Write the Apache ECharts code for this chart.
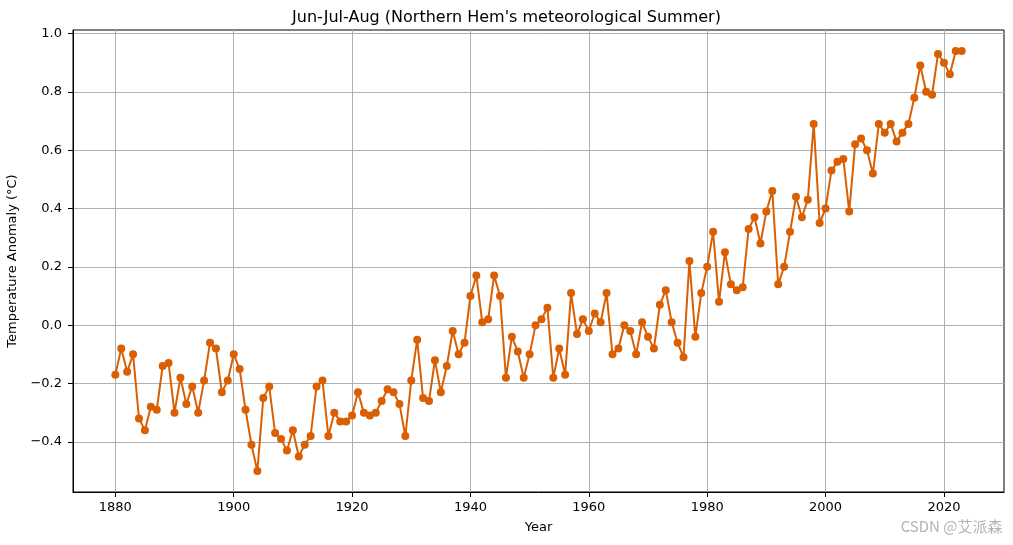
<!DOCTYPE html>
<html>
<head>
<meta charset="utf-8">
<script src="https://cdn.jsdelivr.net/npm/echarts@6/dist/echarts.min.js"></script>
<style>
html,body{margin:0;padding:0;background:#fff;}
#chart{width:1013px;height:545px;}
</style>
</head>
<body>
<div id="chart"></div>
<script>
const startYear = 1880;
const anomalies = [
  -0.17,-0.08,-0.16,-0.10,-0.32,-0.36,-0.28,-0.29,-0.14,-0.13,
  -0.30,-0.18,-0.27,-0.21,-0.30,-0.19,-0.06,-0.08,-0.23,-0.19,
  -0.10,-0.15,-0.29,-0.41,-0.50,-0.25,-0.21,-0.37,-0.39,-0.43,
  -0.36,-0.45,-0.41,-0.38,-0.21,-0.19,-0.38,-0.30,-0.33,-0.33,
  -0.31,-0.23,-0.30,-0.31,-0.30,-0.26,-0.22,-0.23,-0.27,-0.38,
  -0.19,-0.05,-0.25,-0.26,-0.12,-0.23,-0.14,-0.02,-0.10,-0.06,
  0.10,0.17,0.01,0.02,0.17,0.10,-0.18,-0.04,-0.09,-0.18,
  -0.10,0.00,0.02,0.06,-0.18,-0.08,-0.17,0.11,-0.03,0.02,
  -0.02,0.04,0.01,0.11,-0.10,-0.08,0.00,-0.02,-0.10,0.01,
  -0.04,-0.08,0.07,0.12,0.01,-0.06,-0.11,0.22,-0.04,0.11,
  0.20,0.32,0.08,0.25,0.14,0.12,0.13,0.33,0.37,0.28,
  0.39,0.46,0.14,0.20,0.32,0.44,0.37,0.43,0.69,0.35,
  0.40,0.53,0.56,0.57,0.39,0.62,0.64,0.60,0.52,0.69,
  0.66,0.69,0.63,0.66,0.69,0.78,0.89,0.80,0.79,0.93,
  0.90,0.86,0.94,0.94
];
const years = anomalies.map((_, i) => startYear + i);
const xTicks = [1880, 1900, 1920, 1940, 1960, 1980, 2000, 2020];
const yTicks = [-0.4, -0.2, 0.0, 0.2, 0.4, 0.6, 0.8, 1.0];
const titleText = "Jun-Jul-Aug (Northern Hem's meteorological Summer)";
const xLabel = "Year";
const yLabel = "Temperature Anomaly (°C)";
const watermark = "CSDN @艾派森";

const xMin = years[0], xMax = years[years.length - 1];
const xPad = (xMax - xMin) * 0.05;
const yMinD = Math.min(...anomalies), yMaxD = Math.max(...anomalies);
const yPad = (yMaxD - yMinD) * 0.05;

const font = "DejaVu Sans";
const chart = echarts.init(document.getElementById('chart'), null, {renderer: 'canvas'});
chart.setOption({
  animation: false,
  backgroundColor: '#ffffff',
  title: {
    text: titleText,
    left: 'center',
    top: 5,
    textStyle: {fontFamily: font, fontSize: 16, fontWeight: 'normal', color: '#000'}
  },
  grid: {
    left: 73, right: 9, top: 30, bottom: 53,
    outerBoundsMode: 'none',
    containLabel: false,
    show: true, borderColor: '#000', borderWidth: 1, backgroundColor: 'transparent'
  },
  xAxis: {
    type: 'value',
    min: xMin - xPad,
    max: xMax + xPad,
    name: xLabel,
    nameLocation: 'middle',
    nameGap: 29,
    nameTextStyle: {fontFamily: font, fontSize: 13, color: '#000'},
    axisLine: {show: true, onZero: false, lineStyle: {color: '#000', width: 1}},
    axisTick: {show: true, inside: false, length: 5, customValues: xTicks, lineStyle: {color: '#000', width: 1}},
    axisLabel: {customValues: xTicks, margin: 9, fontFamily: font, fontSize: 13, color: '#000',
      formatter: v => String(Math.round(v))},
    splitLine: {show: true, lineStyle: {color: '#b0b0b0', width: 1}}
  },
  yAxis: {
    type: 'value',
    min: yMinD - yPad,
    max: yMaxD + yPad,
    name: yLabel,
    nameLocation: 'middle',
    nameGap: 48,
    nameRotate: 90,
    nameTextStyle: {fontFamily: font, fontSize: 13, color: '#000'},
    axisLine: {show: true, onZero: false, lineStyle: {color: '#000', width: 1}},
    axisTick: {show: true, inside: false, length: 5, customValues: yTicks, lineStyle: {color: '#000', width: 1}},
    axisLabel: {customValues: yTicks, margin: 11, fontFamily: font, fontSize: 13, color: '#000',
      formatter: v => v.toFixed(1).replace('-', '\u2212')},
    splitLine: {show: true, lineStyle: {color: '#b0b0b0', width: 1}}
  },
  graphic: [{
    type: 'text',
    right: 10,
    top: 518,
    silent: true,
    style: {text: watermark, fill: 'rgba(160,160,160,0.8)', font: '15px "Noto Sans CJK SC", sans-serif',
      stroke: 'rgba(255,255,255,0.8)', lineWidth: 1}
  }],
  series: [{
    type: 'line',
    data: years.map((y, i) => [y, anomalies[i]]),
    symbol: 'circle',
    symbolSize: 8,
    showSymbol: true,
    lineStyle: {color: '#d95f02', width: 2},
    itemStyle: {color: '#d95f02', borderWidth: 0},
    emphasis: {disabled: true},
    z: 3
  }]
});
</script>
</body>
</html>
